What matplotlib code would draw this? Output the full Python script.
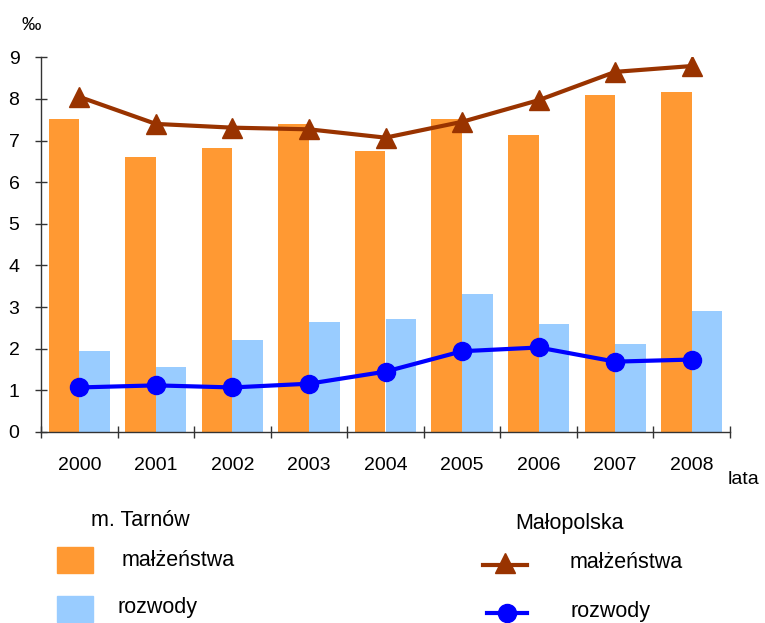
import matplotlib
matplotlib.use("Agg")
import matplotlib.pyplot as plt
import numpy as np
from matplotlib.patches import Rectangle
from matplotlib.lines import Line2D

plt.rcParams['font.family'] = ['Liberation Sans', 'DejaVu Sans']

years = ['2000', '2001', '2002', '2003', '2004', '2005', '2006', '2007', '2008']
tarnow_malzenstwa = [7.52, 6.60, 6.81, 7.40, 6.74, 7.51, 7.13, 8.09, 8.16]
tarnow_rozwody = [1.95, 1.55, 2.20, 2.64, 2.71, 3.31, 2.59, 2.12, 2.90]
malopolska_malzenstwa = [8.05, 7.40, 7.31, 7.27, 7.07, 7.45, 7.97, 8.65, 8.79]
malopolska_rozwody = [1.07, 1.12, 1.07, 1.16, 1.45, 1.94, 2.03, 1.69, 1.74]
yticks = [0, 1, 2, 3, 4, 5, 6, 7, 8, 9]

c_orange = '#FF9933'
c_lblue = '#99CCFF'
c_brown = '#993300'
c_blue = '#0000FF'

fig = plt.figure(figsize=(7.65, 6.23), dpi=100)
ax = fig.add_axes([41/765, 1-432/623, (730-41)/765, (432-57.3)/623])

x = np.arange(len(years))
w = 0.4
ax.bar(x - w/2, tarnow_malzenstwa, width=w, color=c_orange, zorder=2)
ax.bar(x + w/2, tarnow_rozwody, width=w, color=c_lblue, zorder=2)
ax.plot(x, malopolska_malzenstwa, color=c_brown, lw=3, marker='^', ms=14, zorder=3)
ax.plot(x, malopolska_rozwody, color=c_blue, lw=3, marker='o', ms=13, zorder=3)

ax.set_xlim(-0.5, len(years) - 0.5)
ax.set_ylim(0, 9)
ax.set_yticks(yticks)
ax.set_yticklabels([str(t) for t in yticks], fontsize=14)
ax.set_xticks(x)
ax.set_xticklabels(years, fontsize=14)
ax.set_xticks(np.arange(len(years) + 1) - 0.5, minor=True)
ax.tick_params(axis='x', which='major', length=0, pad=18)
ax.tick_params(axis='x', which='minor', direction='inout', length=9, width=1, color='#333333')
ax.tick_params(axis='y', direction='inout', length=9, width=1, color='#333333', pad=11)
for s in ['top', 'right']:
    ax.spines[s].set_visible(False)
for s in ['left', 'bottom']:
    ax.spines[s].set_color('#333333')
    ax.spines[s].set_linewidth(1)

fig.text(22/765, 1-25/623, '‰', fontsize=14, va='center', ha='left')
fig.text(728/765, 1-480/623, 'lata', fontsize=14, va='center', ha='left')

# legend
fs = 15.5
fig.text(91/765, 1-521/623, 'm. Tarnów', fontsize=fs, va='center', ha='left')
fig.add_artist(Rectangle((57/765, 1-573/623), 36/765, 26/623, transform=fig.transFigure, color=c_orange))
fig.text(122/765, 1-560/623, 'małżeństwa', fontsize=fs, va='center', ha='left')
fig.add_artist(Rectangle((57/765, 1-622/623), 36/765, 26/623, transform=fig.transFigure, color=c_lblue))
fig.text(117/765, 1-607/623, 'rozwody', fontsize=fs, va='center', ha='left')

fig.text(515/765, 1-524/623, 'Małopolska', fontsize=fs, va='center', ha='left')
fig.add_artist(Line2D([483/765, 527/765], [1-565/623, 1-565/623], transform=fig.transFigure,
                      color=c_brown, lw=3))
fig.add_artist(Line2D([505/765], [1-563/623], transform=fig.transFigure,
                      color=c_brown, marker='^', ms=14, lw=0))
fig.text(570/765, 1-562/623, 'małżeństwa', fontsize=fs, va='center', ha='left')
fig.add_artist(Line2D([487/765, 527/765], [1-613/623, 1-613/623], transform=fig.transFigure,
                      color=c_blue, lw=3))
fig.add_artist(Line2D([507/765], [1-613/623], transform=fig.transFigure,
                      color=c_blue, marker='o', ms=13, lw=0))
fig.text(570/765, 1-612/623, 'rozwody', fontsize=fs, va='center', ha='left')

fig.savefig('out.png', dpi=100)
